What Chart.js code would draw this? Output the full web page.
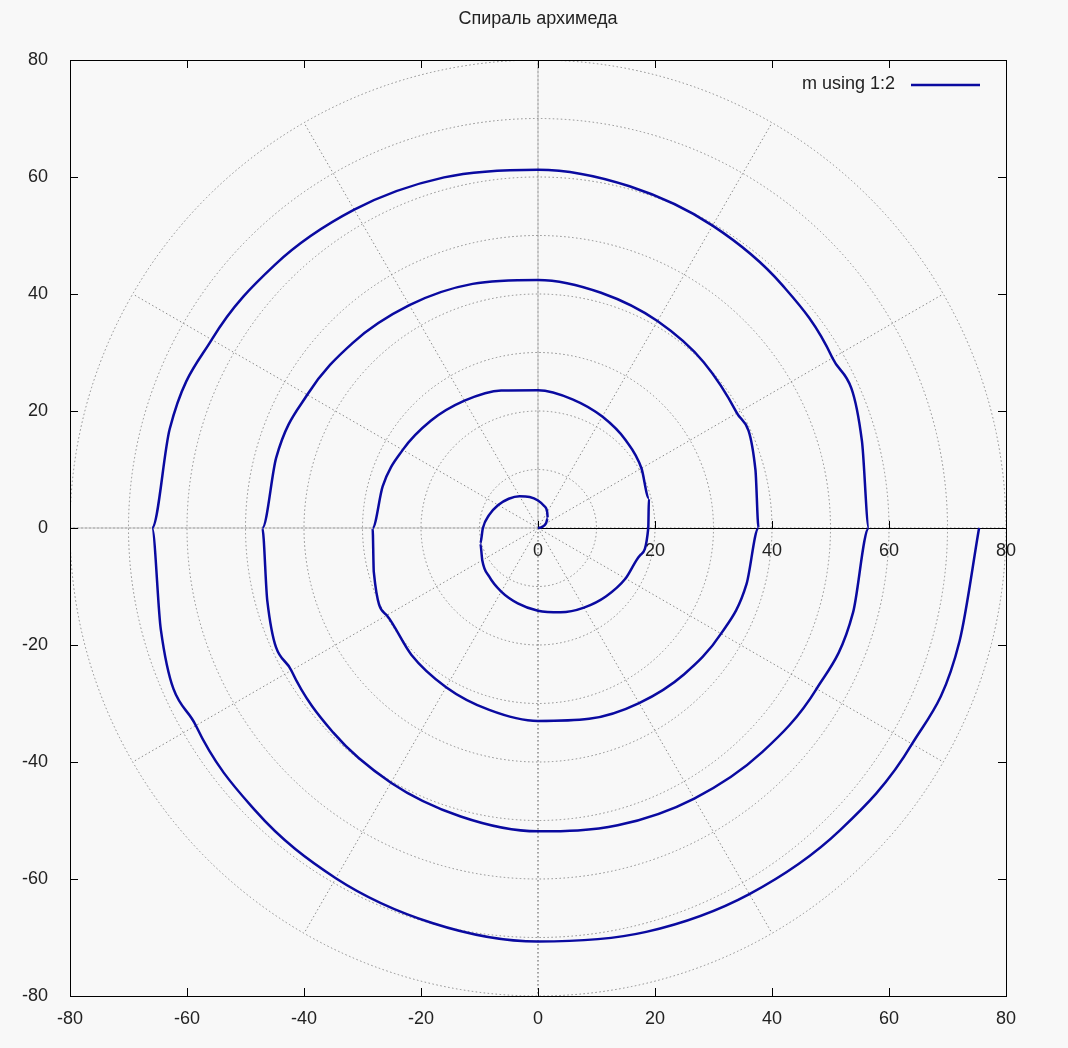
<!DOCTYPE html>
<html><head><meta charset="utf-8">
<script src="https://cdn.jsdelivr.net/npm/chart.js@4"></script>
<style>html,body{margin:0;background:#f8f8f8}</style></head>
<body><canvas id="c" width="1068" height="1048"></canvas>
<script>
const title = "Спираль архимеда";
const seriesLabel = "m using 1:2";
const angleStepDeg = 15;
const radii = [0,0.79,1.57,2.36,3.14,3.93,4.71,5.50,6.28,7.07,7.85,8.64,9.42,10.21,11.00,11.78,12.57,13.35,14.14,14.92,15.71,16.49,17.28,18.06,18.85,
19.63,20.42,21.21,21.99,22.78,23.56,24.35,25.13,25.92,26.70,27.49,28.27,29.06,29.85,30.63,31.42,32.20,32.99,33.77,34.56,35.34,36.13,36.91,37.70,
38.48,39.27,40.06,40.84,41.63,42.41,43.20,43.98,44.77,45.55,46.34,47.12,47.91,48.69,49.48,50.27,51.05,51.84,52.62,53.41,54.19,54.98,55.76,56.55,
57.33,58.12,58.90,59.69,60.48,61.26,62.05,62.83,63.62,64.40,65.19,65.97,66.76,67.54,68.33,69.12,69.90,70.69,71.47,72.26,73.04,73.83,74.61,75.40];
const xTicks = [-80,-60,-40,-20,0,20,40,60,80];
const yTicks = [-80,-60,-40,-20,0,20,40,60,80];
const axisTicks = [0,20,40,60,80];
const gridCircles = [10,20,30,40,50,60,70,80];
const gridAnglesDeg = [0,30,60,90,120,150,180,210,240,270,300,330];

const pts = radii.map((r,i)=>{const a=i*angleStepDeg*Math.PI/180;return {x:r*Math.cos(a),y:r*Math.sin(a)};});
const FONT = '18px "Liberation Sans", Arial, sans-serif';

const deco = {
  id:'deco',
  beforeDatasetsDraw(ch){
    const {ctx,chartArea:ca,scales:{x,y}} = ch;
    const cx=x.getPixelForValue(0), cy=y.getPixelForValue(0);
    const k = x.getPixelForValue(1)-cx;
    ctx.save();
    ctx.beginPath();ctx.rect(ca.left,ca.top,ca.right-ca.left,ca.bottom-ca.top);ctx.clip();
    ctx.strokeStyle='#8a8a8a';ctx.lineWidth=1;ctx.setLineDash([1.5,2.5]);
    gridCircles.forEach(r=>{ctx.beginPath();ctx.arc(cx,cy,r*k,0,2*Math.PI);ctx.stroke();});
    gridAnglesDeg.forEach(d=>{const a=d*Math.PI/180;ctx.beginPath();ctx.moveTo(cx,cy);ctx.lineTo(cx+80*k*Math.cos(a),cy-80*k*Math.sin(a));ctx.stroke();});
    ctx.beginPath();ctx.moveTo(cx,ca.top);ctx.lineTo(cx,ca.bottom);ctx.stroke();
    ctx.beginPath();ctx.moveTo(ca.left,cy);ctx.lineTo(cx,cy);ctx.stroke();
    ctx.setLineDash([]);
    ctx.strokeStyle='#000';ctx.lineWidth=1;
    ctx.beginPath();ctx.moveTo(cx,cy+0.5);ctx.lineTo(ca.right,cy+0.5);ctx.stroke();
    ctx.restore();
    ctx.save();
    ctx.fillStyle='#222';ctx.font=FONT;ctx.textAlign='center';ctx.textBaseline='top';
    ctx.strokeStyle='#000';
    axisTicks.forEach(v=>{const px=x.getPixelForValue(v);
      ctx.beginPath();ctx.moveTo(px+0.5,cy);ctx.lineTo(px+0.5,cy-7);ctx.stroke();
      ctx.fillText(String(v),px,cy+14);});
    ctx.strokeRect(ca.left+0.5,ca.top+0.5,ca.right-ca.left,ca.bottom-ca.top);
    xTicks.forEach(v=>{const px=Math.round(x.getPixelForValue(v))+0.5;
      ctx.beginPath();ctx.moveTo(px,ca.bottom);ctx.lineTo(px,ca.bottom-8);ctx.moveTo(px,ca.top);ctx.lineTo(px,ca.top+8);ctx.stroke();});
    yTicks.forEach(v=>{const py=Math.round(y.getPixelForValue(v))+0.5;
      ctx.beginPath();ctx.moveTo(ca.left,py);ctx.lineTo(ca.left+8,py);ctx.moveTo(ca.right,py);ctx.lineTo(ca.right-8,py);ctx.stroke();});
    ctx.textBaseline='middle';ctx.font=FONT;
    ctx.fillText(title,(ca.left+ca.right)/2,19);
    ctx.textAlign='right';
    ctx.fillText(seriesLabel,895,84);
    ctx.strokeStyle='#0a0aa0';ctx.lineWidth=2.5;
    ctx.beginPath();ctx.moveTo(911,85);ctx.lineTo(980,85);ctx.stroke();
    ctx.restore();
  }
};

new Chart(document.getElementById('c'),{
  type:'scatter',
  data:{datasets:[{label:seriesLabel,data:pts,showLine:true,borderColor:'#0a0aa0',borderWidth:2.5,pointRadius:0,cubicInterpolationMode:'monotone',tension:0.5,fill:false}]},
  options:{
    responsive:false,animation:false,
    layout:{padding:{top:60,right:62,left:0,bottom:0}},
    plugins:{legend:{display:false},tooltip:{enabled:false}},
    scales:{
      x:{type:'linear',min:-80,max:80,afterFit(s){s.height=52;},
         afterBuildTicks(s){s.ticks=xTicks.map(v=>({value:v}));},
         grid:{display:false},border:{display:false},
         ticks:{color:'#222',font:{family:'"Liberation Sans", Arial, sans-serif',size:18},padding:4,maxRotation:0}},
      y:{type:'linear',min:-80,max:80,afterFit(s){s.width=70;},
         afterBuildTicks(s){s.ticks=yTicks.map(v=>({value:v}));},
         grid:{display:false},border:{display:false},
         ticks:{color:'#222',font:{family:'"Liberation Sans", Arial, sans-serif',size:18},padding:14}}
    }
  },
  plugins:[deco]
});
</script></body></html>
